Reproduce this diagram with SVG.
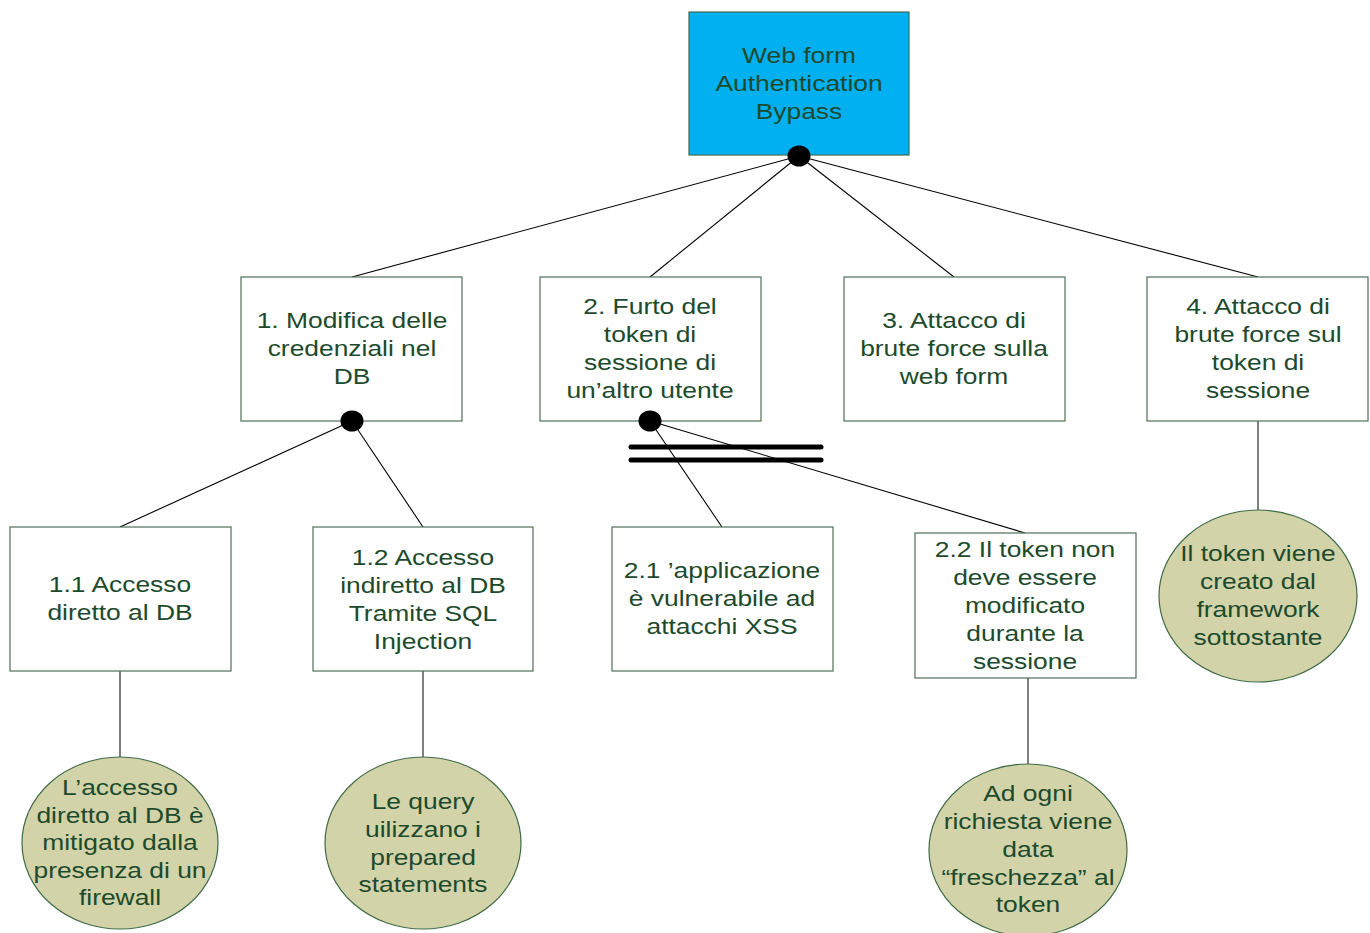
<svg xmlns="http://www.w3.org/2000/svg" width="1370" height="933" viewBox="0 0 1370 933">
<style>
.box{fill:#ffffff;stroke:#4f6f57;stroke-width:1.2}
.top{fill:#00b0f0;stroke:#3d6b55;stroke-width:1.2}
.ell{fill:#d2d3a8;stroke:#3f6b45;stroke-width:1.2}
.t{font-family:"Liberation Sans",Arial,sans-serif;font-size:22px;fill:#1d4a2c;text-anchor:middle}
.c{stroke:#000;stroke-width:1.1;fill:none}
.g{stroke:#555;stroke-width:1.5;fill:none}
.bar{stroke:#000;stroke-width:5;stroke-linecap:round}
.dot{fill:#000}
</style>
<rect width="1370" height="933" fill="#fff"/>
<g id="connectors">
<line class="c" x1="799" y1="156" x2="352" y2="277"/>
<line class="c" x1="799" y1="156" x2="650" y2="277"/>
<line class="c" x1="799" y1="156" x2="954" y2="277"/>
<line class="c" x1="799" y1="156" x2="1258" y2="277"/>
<line class="c" x1="352" y1="421" x2="120" y2="527"/>
<line class="c" x1="352" y1="421" x2="423" y2="527"/>
<line class="c" x1="650" y1="421" x2="722" y2="527"/>
<line class="c" x1="650" y1="421" x2="1025" y2="533"/>
<line class="g" x1="120" y1="671" x2="120" y2="758"/>
<line class="g" x1="423" y1="671" x2="423" y2="758"/>
<line class="g" x1="1028" y1="678" x2="1028" y2="765"/>
<line class="g" x1="1258" y1="421" x2="1258" y2="511"/>
<line class="bar" x1="631" y1="447" x2="821" y2="447"/>
<line class="bar" x1="631" y1="460" x2="821" y2="460"/>
</g>
<g id="root">
<rect class="top" x="689" y="12" width="220" height="143"/>
<text class="t" transform="matrix(1.2,0,0,1,799,0)"><tspan x="0" y="63">Web form</tspan><tspan x="0" y="91">Authentication</tspan><tspan x="0" y="119">Bypass</tspan></text>
<ellipse class="dot" cx="799" cy="156" rx="11.5" ry="10.5"/>
</g>
<g id="n1">
<rect class="box" x="241" y="277" width="221" height="144"/>
<text class="t" transform="matrix(1.2,0,0,1,352,0)"><tspan x="0" y="328">1. Modifica delle</tspan><tspan x="0" y="356">credenziali nel</tspan><tspan x="0" y="384">DB</tspan></text>
<ellipse class="dot" cx="352" cy="421" rx="11.5" ry="10.5"/>
</g>
<g id="n2">
<rect class="box" x="540" y="277" width="221" height="144"/>
<text class="t" transform="matrix(1.2,0,0,1,650,0)"><tspan x="0" y="314">2. Furto del</tspan><tspan x="0" y="342">token di</tspan><tspan x="0" y="370">sessione di</tspan><tspan x="0" y="398">un’altro utente</tspan></text>
<ellipse class="dot" cx="650" cy="421" rx="11.5" ry="10.5"/>
</g>
<g id="n3">
<rect class="box" x="844" y="277" width="221" height="144"/>
<text class="t" transform="matrix(1.2,0,0,1,954,0)"><tspan x="0" y="328">3. Attacco di</tspan><tspan x="0" y="356">brute force sulla</tspan><tspan x="0" y="384">web form</tspan></text>
</g>
<g id="n4">
<rect class="box" x="1147" y="277" width="221" height="144"/>
<text class="t" transform="matrix(1.2,0,0,1,1258,0)"><tspan x="0" y="314">4. Attacco di</tspan><tspan x="0" y="342">brute force sul</tspan><tspan x="0" y="370">token di</tspan><tspan x="0" y="398">sessione</tspan></text>
</g>
<g id="n11">
<rect class="box" x="10" y="527" width="221" height="144"/>
<text class="t" transform="matrix(1.2,0,0,1,120,0)"><tspan x="0" y="592">1.1 Accesso</tspan><tspan x="0" y="620">diretto al DB</tspan></text>
</g>
<g id="n12">
<rect class="box" x="313" y="527" width="220" height="144"/>
<text class="t" transform="matrix(1.2,0,0,1,423,0)"><tspan x="0" y="565">1.2 Accesso</tspan><tspan x="0" y="593">indiretto al DB</tspan><tspan x="0" y="621">Tramite SQL</tspan><tspan x="0" y="649">Injection</tspan></text>
</g>
<g id="n21">
<rect class="box" x="612" y="527" width="221" height="144"/>
<text class="t" transform="matrix(1.2,0,0,1,722,0)"><tspan x="0" y="578">2.1 ’applicazione</tspan><tspan x="0" y="606">è vulnerabile ad</tspan><tspan x="0" y="634">attacchi XSS</tspan></text>
</g>
<g id="n22">
<rect class="box" x="915" y="533" width="221" height="145"/>
<text class="t" transform="matrix(1.2,0,0,1,1025,0)"><tspan x="0" y="557">2.2 Il token non</tspan><tspan x="0" y="585">deve essere</tspan><tspan x="0" y="613">modificato</tspan><tspan x="0" y="641">durante la</tspan><tspan x="0" y="669">sessione</tspan></text>
</g>
<g id="m11">
<ellipse class="ell" cx="120" cy="843" rx="98" ry="86"/>
<text class="t" transform="matrix(1.2,0,0,1,120,0)"><tspan x="0" y="795">L’accesso</tspan><tspan x="0" y="823">diretto al DB è</tspan><tspan x="0" y="850">mitigato dalla</tspan><tspan x="0" y="878">presenza di un</tspan><tspan x="0" y="905">firewall</tspan></text>
</g>
<g id="m12">
<ellipse class="ell" cx="423" cy="843" rx="98" ry="86"/>
<text class="t" transform="matrix(1.2,0,0,1,423,0)"><tspan x="0" y="809">Le query</tspan><tspan x="0" y="837">uilizzano i</tspan><tspan x="0" y="865">prepared</tspan><tspan x="0" y="892">statements</tspan></text>
</g>
<g id="m22">
<ellipse class="ell" cx="1028" cy="850" rx="99" ry="86"/>
<text class="t" transform="matrix(1.2,0,0,1,1028,0)"><tspan x="0" y="801">Ad ogni</tspan><tspan x="0" y="829">richiesta viene</tspan><tspan x="0" y="857">data</tspan><tspan x="0" y="885">“freschezza” al</tspan><tspan x="0" y="912">token</tspan></text>
</g>
<g id="m4">
<ellipse class="ell" cx="1258" cy="596" rx="99" ry="86"/>
<text class="t" transform="matrix(1.2,0,0,1,1258,0)"><tspan x="0" y="561">Il token viene</tspan><tspan x="0" y="589">creato dal</tspan><tspan x="0" y="617">framework</tspan><tspan x="0" y="645">sottostante</tspan></text>
</g>
</svg>
